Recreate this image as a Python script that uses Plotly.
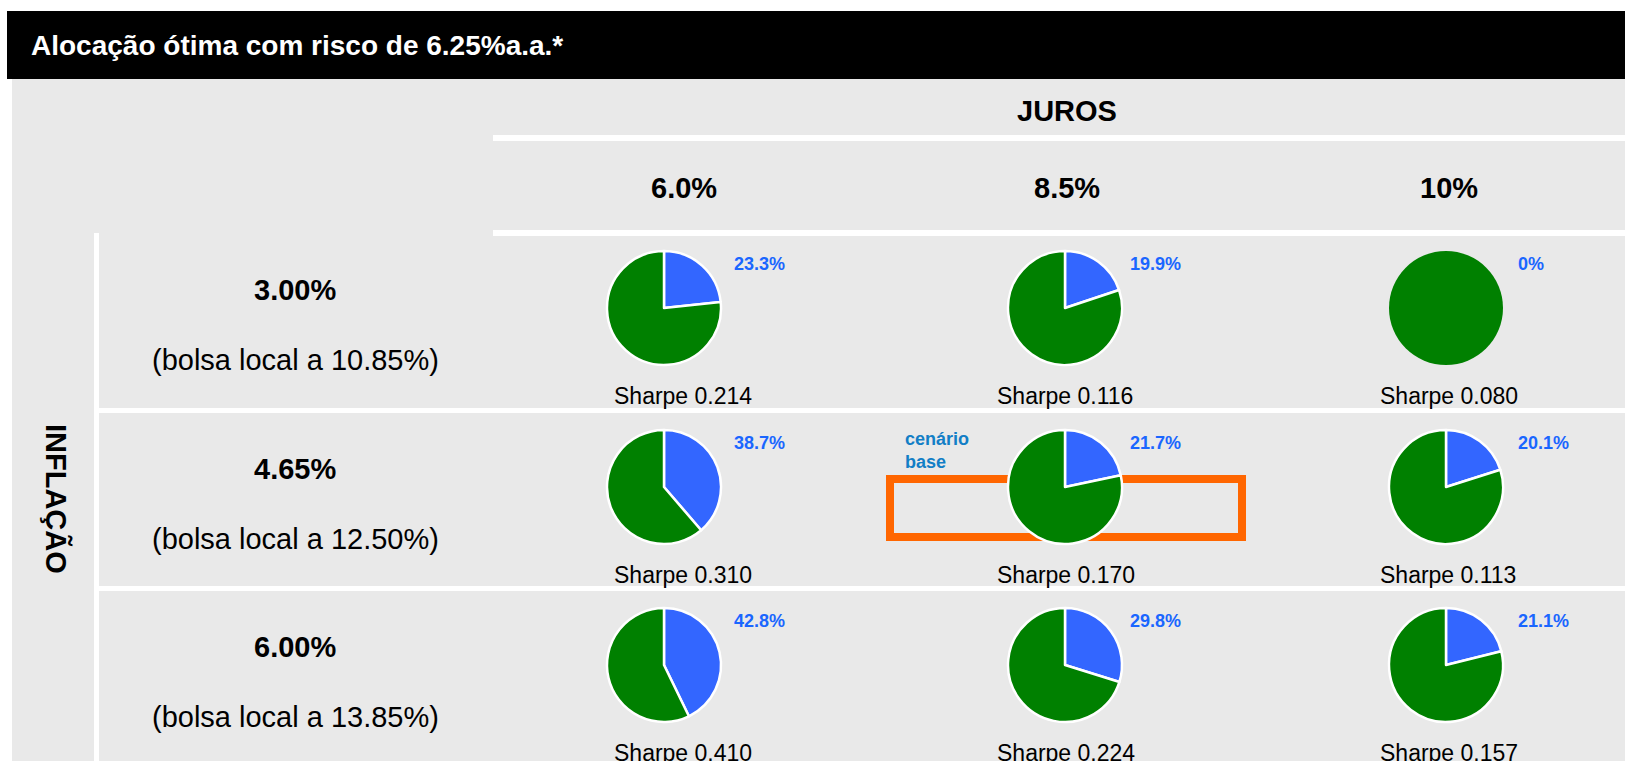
import plotly.graph_objects as go

# ---------------- data ----------------
title = "Alocação ótima com risco de 6.25%a.a.*"
juros_label = "JUROS"
inflacao_label = "INFLAÇÃO"
juros = ["6.0%", "8.5%", "10%"]
inflacao = ["3.00%", "4.65%", "6.00%"]
bolsa = ["(bolsa local a 10.85%)", "(bolsa local a 12.50%)", "(bolsa local a 13.85%)"]
# share of the blue asset in the optimal allocation (%), rows = inflação, cols = juros
alloc = [[23.3, 19.9, 0.0],
         [38.7, 21.7, 20.1],
         [42.8, 29.8, 21.1]]
sharpe = [[0.214, 0.116, 0.080],
          [0.310, 0.170, 0.113],
          [0.410, 0.224, 0.157]]
base_label = "cenário<br>base"
base_cell = (1, 1)

# ---------------- layout constants (pixels) ----------------
W, H = 1625, 761
FONT = "Liberation Sans, Arial, sans-serif"
BLUE, GREEN = "#3366ff", "#008000"
PCT_COLOR = "#1a66ff"
BASE_COLOR = "#127ec6"
GRAY = "#e9e9e9"
col_x = [664, 1065, 1446]
row_y = [308, 487, 665]
R = 57
pct_x = [732, 1128, 1516]
sharpe_x = [612, 995, 1378]
head_x = [684, 1067, 1449]


def X(px):
    return px / W


def Y(py):
    return 1 - py / H


fig = go.Figure()

for i in range(3):
    for j in range(3):
        p = alloc[i][j]
        cx, cy = col_x[j], row_y[i]
        fig.add_trace(go.Pie(
            values=[p, 100 - p],
            labels=["bolsa", "outros"],
            marker=dict(colors=[BLUE, GREEN],
                        line=dict(color="white", width=2.5 if p > 0 else 0)),
            sort=False, direction="clockwise", rotation=0,
            textinfo="none", hoverinfo="skip", showlegend=False,
            domain=dict(x=[X(cx - R), X(cx + R)], y=[Y(cy + R), Y(cy - R)]),
        ))

shapes = [
    dict(type="rect", x0=X(7), x1=X(W), y0=Y(79), y1=Y(11), fillcolor="black", line_width=0, layer="below"),
    dict(type="rect", x0=X(12), x1=X(W), y0=Y(H), y1=Y(79), fillcolor=GRAY, line_width=0, layer="below"),
    dict(type="rect", x0=X(493), x1=X(W), y0=Y(141), y1=Y(135), fillcolor="white", line_width=0, layer="below"),
    dict(type="rect", x0=X(493), x1=X(W), y0=Y(236), y1=Y(230), fillcolor="white", line_width=0, layer="below"),
    dict(type="rect", x0=X(94), x1=X(99), y0=Y(H), y1=Y(233), fillcolor="white", line_width=0, layer="below"),
    dict(type="rect", x0=X(99), x1=X(W), y0=Y(413), y1=Y(408), fillcolor="white", line_width=0, layer="below"),
    dict(type="rect", x0=X(99), x1=X(W), y0=Y(591), y1=Y(586), fillcolor="white", line_width=0, layer="below"),
    dict(type="rect", x0=X(890), x1=X(1242), y0=Y(537), y1=Y(479), fillcolor="rgba(0,0,0,0)",
         line=dict(color="#ff6600", width=8), layer="below"),
]

ann = []


def text(s, x, y, size, color="black", bold=False, xanchor="center", angle=0):
    ann.append(dict(text=s, x=X(x), y=Y(y), xref="paper", yref="paper", showarrow=False,
                    xanchor=xanchor, yanchor="middle", textangle=angle, align="left",
                    font=dict(family=FONT, size=size, color=color, weight="bold" if bold else "normal")))


text(title, 29, 46, 28, "white", True, "left")
text(juros_label, 1067, 111, 29, bold=True)
for j in range(3):
    text(juros[j], head_x[j], 188, 29, bold=True)
text(inflacao_label, 57, 499, 29, bold=True, angle=90)
for i in range(3):
    text(inflacao[i], 295, 290 + (row_y[i] - row_y[0]), 29, bold=True)
    text(bolsa[i], 295, 360 + (row_y[i] - row_y[0]), 29)
    for j in range(3):
        p = alloc[i][j]
        lab = f"{p:.1f}%" if p > 0 else "0%"
        text(lab, pct_x[j], row_y[i] - 44, 18, PCT_COLOR, True, "left")
        text(f"Sharpe {sharpe[i][j]:.3f}", sharpe_x[j], row_y[i] + 88, 23, xanchor="left")

bi, bj = base_cell
text(base_label, 903, 451, 18, BASE_COLOR, True, "left")

fig.update_layout(
    width=W, height=H, margin=dict(l=0, r=0, t=0, b=0),
    paper_bgcolor="white", plot_bgcolor="white",
    shapes=shapes, annotations=ann, showlegend=False,
)

fig.write_html("out.html", config={"displayModeBar": False},
               post_script="document.body.style.margin='0px';")
